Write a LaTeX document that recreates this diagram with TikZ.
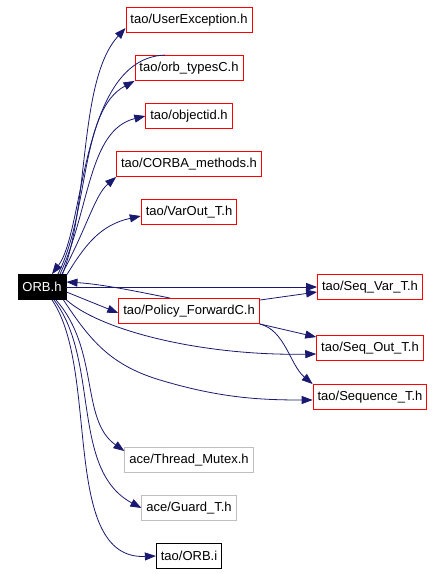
\documentclass[tikz,border=0pt]{standalone}
\usepackage{fontspec}
\setmainfont{Liberation Sans}
\usepackage{xcolor}
\usetikzlibrary{arrows.meta}

\begin{document}
\begin{tikzpicture}[x=1pt,y=-1pt,
  hdr/.style={draw=hdrred,line width=0.9pt,inner xsep=4.5pt,inner ysep=0pt,minimum height=25pt,font=\fontsize{13}{15}\selectfont},
  ext/.style={hdr,draw=extgray},
  dep/.style={draw=deplink,line width=0.8pt,-{Triangle[length=11pt,width=8pt]}}]
\definecolor{hdrred}{HTML}{FF0000}
\definecolor{extgray}{HTML}{BFBFBF}
\definecolor{deplink}{HTML}{191970}
\useasboundingbox (0,0) rectangle (446,574);
\node [hdr,draw=black,fill=black,text=white] (orbh) at (42,287) {ORB.h};
  \foreach \nm/\txt/\ypos in {userexc/UserException.h/20,orbtypes/orb\_typesC.h/68,objectid/objectid.h/116,corbameth/CORBA\_methods.h/164,varout/VarOut\_T.h/212}
  {  \node [hdr] (\nm) at (189,\ypos) {tao/\txt};}
  \foreach \nm/\txt/\ypos in {seqvar/Seq\_Var\_T.h/287,seqout/Seq\_Out\_T.h/348,sequence/Sequence\_T.h/397}
  {  \node [hdr] (\nm) at (370,\ypos) {tao/\txt};}
\node [hdr] (policy) at (189,311) {tao/Policy\_ForwardC.h};
\node [ext] (mutex) at (189,460) {ace/Thread\_Mutex.h};
\node [ext] (guard) at (189,508) {ace/Guard\_T.h};
\node [hdr,draw=black] (orbi) at (189,556) {tao/ORB.i};
% upper includes
\draw[dep] ([xshift=-4pt]orbh.north east) .. controls (90,205) and (78,80) .. ([yshift=-8pt]userexc.west);
\draw[dep] ([xshift=-24pt]orbtypes.north) .. controls (80,58) and (85,230) .. ([xshift=10pt]orbh.north);
\draw[dep] ([xshift=16pt]orbh.north) .. controls (90,210) and (80,110) .. (orbtypes.south west);
\draw[dep] ([xshift=18pt]orbh.north) .. controls (90,210) and (88,130) .. (objectid.west);
\draw[dep] ([xshift=20pt]orbh.north) .. controls (88,225) and (95,195) .. (corbameth.south west);
\draw[dep] ([xshift=24pt,yshift=-2pt]orbh.north) .. controls (85,245) and (100,225) .. ([yshift=-4pt]varout.west);
% right side
\draw[dep] (orbh.east) -- (seqvar.west);
\draw[dep] ([xshift=-19pt]policy.north) .. controls (130,290) and (100,284) .. ([yshift=5pt]orbh.east);
\draw[dep] ([yshift=-5pt]orbh.east) -- ([yshift=-2pt]policy.west);
\draw[dep] ([yshift=-2pt]policy.north east) -- ([yshift=-5pt]seqvar.west);
\draw[dep] (policy.south east) -- ([yshift=-2pt]seqout.north west);
\draw[dep] (policy.south east) .. controls (285,330) and (290,365) .. (sequence.north west);
\draw[dep] (orbh.south east) .. controls (100,330) and (200,356) .. ([yshift=-6pt]seqout.west);
\draw[dep] ([xshift=-3pt]orbh.south east) .. controls (90,340) and (110,365) .. (160,380) .. controls (220,398) and (260,400) .. ([yshift=-3pt]sequence.west);
% lower includes
\draw[dep] ([xshift=14pt]orbh.south) .. controls (100,350) and (80,420) .. ([yshift=-4pt]mutex.north west);
\draw[dep] ([xshift=12pt]orbh.south) .. controls (100,360) and (70,470) .. (guard.west);
\draw[dep] ([xshift=10pt]orbh.south) .. controls (100,370) and (60,560) .. (orbi.west);
\end{tikzpicture}
\end{document}
